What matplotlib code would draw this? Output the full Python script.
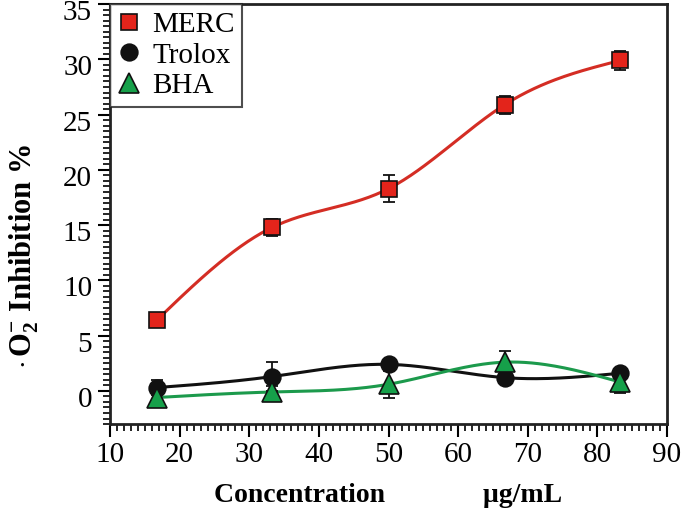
import numpy as np
import matplotlib
matplotlib.use('Agg')
import matplotlib.pyplot as plt
import matplotlib.transforms as mtransforms
from matplotlib.ticker import MultipleLocator

plt.rcParams['font.family'] = 'Liberation Serif'
plt.rcParams['mathtext.fontset'] = 'custom'
plt.rcParams['mathtext.rm'] = 'Liberation Serif:bold'
plt.rcParams['mathtext.bf'] = 'Liberation Serif:bold'
plt.rcParams['mathtext.it'] = 'Liberation Serif:bold'

# data
conc = [16.7, 33.3, 50.0, 66.7, 83.3]
merc = [6.4, 14.8, 18.3, 25.9, 29.9]
merc_err = [0.6, 0.8, 1.2, 0.8, 0.85]
trolox = [0.3, 1.3, 2.4, 1.2, 1.6]
trolox_err = [0.7, 1.3, 0.3, 0.3, 0.3]
bha = [-0.6, -0.1, 0.6, 2.6, 0.8]
bha_err = [0.8, 0.5, 1.2, 1.0, 1.0]


# natural cubic spline, only used to draw the smooth connecting line
def spline(x, y, n=200):
    x = np.asarray(x, float)
    y = np.asarray(y, float)
    k = len(x)
    h = np.diff(x)
    A = np.zeros((k, k))
    b = np.zeros(k)
    A[0, 0] = A[-1, -1] = 1
    for i in range(1, k - 1):
        A[i, i - 1] = h[i - 1]
        A[i, i] = 2 * (h[i - 1] + h[i])
        A[i, i + 1] = h[i]
        b[i] = 6 * ((y[i + 1] - y[i]) / h[i] - (y[i] - y[i - 1]) / h[i - 1])
    M = np.linalg.solve(A, b)
    xs = np.linspace(x[0], x[-1], n)
    idx = np.clip(np.searchsorted(x, xs) - 1, 0, k - 2)
    x0, x1 = x[idx], x[idx + 1]
    hh = x1 - x0
    t0, t1 = x1 - xs, xs - x0
    ys = (M[idx] * t0 ** 3 + M[idx + 1] * t1 ** 3) / (6 * hh) \
        + (y[idx] / hh - M[idx] * hh / 6) * t0 \
        + (y[idx + 1] / hh - M[idx + 1] * hh / 6) * t1
    return xs, ys


fig = plt.figure(figsize=(6.84, 5.14), dpi=100)
ax = fig.add_axes([0.161, 0.175, 0.814, 0.817])

series = [
    (merc, merc_err, 'MERC', 's', '#e3241b', '#d42d24', 11),
    (trolox, trolox_err, 'Trolox', 'o', '#111111', '#111111', 12),
    (bha, bha_err, 'BHA', '^', '#16a04a', '#1c9a4c', 14),
]
for vals, err, name, mk, fc, lc, ms in series:
    xs, ys = spline(conc, vals)
    ax.plot(xs, ys, color=lc, lw=2.2, zorder=2)
    ax.errorbar(conc, vals, yerr=err, fmt='none', ecolor='#111111',
                elinewidth=1.3, capsize=4, capthick=1.3, zorder=3)
    ax.plot(conc, vals, ls='none', marker=mk, ms=ms, mfc=fc, mec='#111111',
            mew=1.2, label=name, zorder=4)

ax.set_xlim(10, 90)
ax.set_ylim(-3, 35)
ax.xaxis.set_major_locator(MultipleLocator(10))
ax.xaxis.set_minor_locator(MultipleLocator(1))
ax.yaxis.set_major_locator(MultipleLocator(5))
ax.yaxis.set_minor_locator(MultipleLocator(0.5))
ax.tick_params(which='major', direction='out', length=9, width=1.5,
               labelsize=21, pad=4)
ax.tick_params(which='minor', direction='out', length=5, width=1.2)
ax.tick_params(top=False, right=False, which='both')
for s in ax.spines.values():
    s.set_linewidth(2)
    s.set_color('#222222')

# y tick labels sit a little below their ticks in the original
shift = mtransforms.ScaledTranslation(0, -6 / 100, fig.dpi_scale_trans)
for lab in ax.get_yticklabels():
    lab.set_transform(lab.get_transform() + shift)

ax.set_xlabel('Concentration              \u03bcg/mL', fontsize=20,
              fontweight='bold', labelpad=11)
ax.set_ylabel(r'$\cdot\,\mathregular{O_2^{-}}$ Inhibition %', fontsize=22,
              fontweight='bold', labelpad=14)
ax.yaxis.set_label_coords(-0.125, 0.40)

leg = ax.legend(loc='upper left', fontsize=21, frameon=True, fancybox=False,
                borderaxespad=0, handlelength=0.8, handletextpad=0.4,
                borderpad=0.25, labelspacing=0.15)
leg.get_frame().set_edgecolor('#222222')
leg.get_frame().set_linewidth(1.5)

fig.savefig('out.png', dpi=100)
